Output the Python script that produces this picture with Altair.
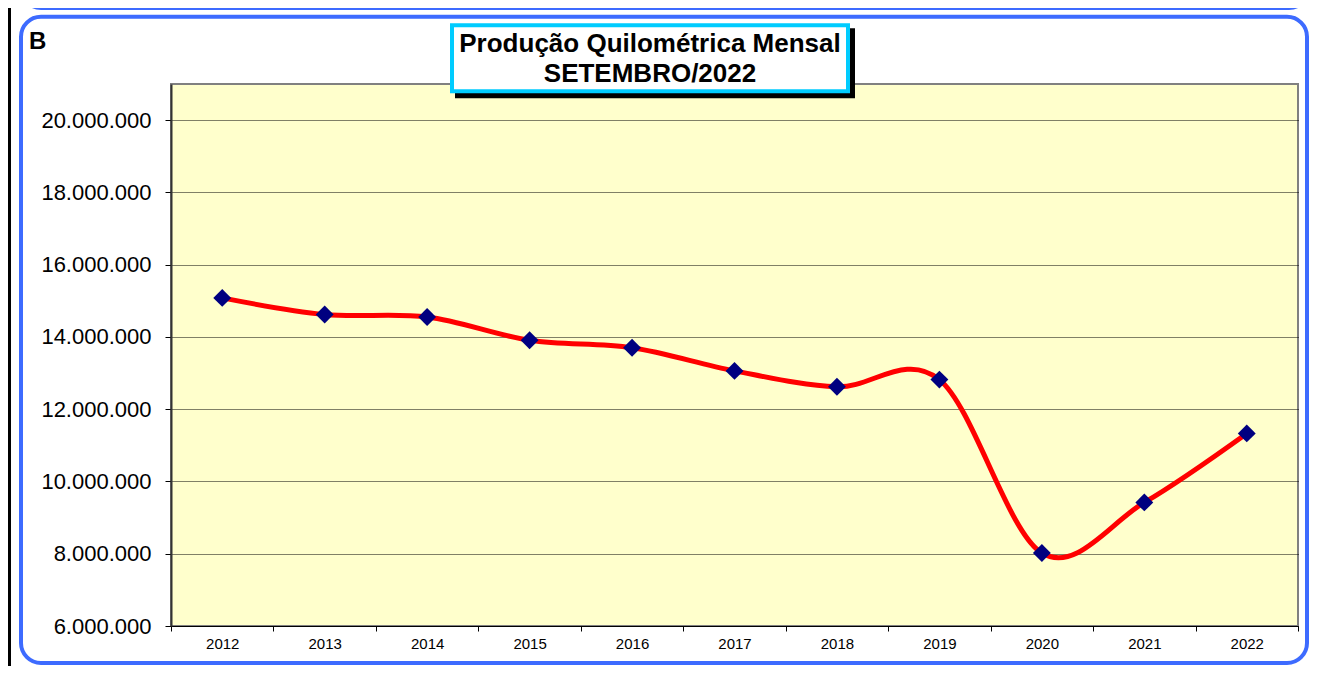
import altair as alt
import pandas as pd

years = ["2012", "2013", "2014", "2015", "2016", "2017", "2018", "2019", "2020", "2021", "2022"]
km = [15080000, 14620000, 14550000, 13910000, 13700000, 13060000, 12620000, 12820000, 8020000, 9420000, 11330000]
y_ticks = [6000000, 8000000, 10000000, 12000000, 14000000, 16000000, 18000000, 20000000]
title_lines = ["Produção Quilométrica Mensal", "SETEMBRO/2022"]
panel_label = "B"

df = pd.DataFrame({"year": years, "km": km})
one = pd.DataFrame({"_": [0]})

FONT = "Liberation Sans"
BLUE = "#3D6BFF"

x_enc = alt.X(
    "year:N", sort=None, bandPosition=0.5,
    scale=alt.Scale(type="band", paddingInner=0, paddingOuter=0),
    axis=alt.Axis(title=None, tickBand="extent", labelAngle=0, grid=False,
                  domainColor="black", tickColor="black", tickSize=5,
                  labelPadding=5, labelFontSize=15, labelColor="black", labelFont=FONT),
)
y_enc = alt.Y(
    "km:Q",
    scale=alt.Scale(domain=[6000000, 21000000], nice=False, zero=False),
    axis=alt.Axis(title=None, values=y_ticks,
                  labelExpr="replace(replace(format(datum.value, ',d'), ',', '.'), ',', '.')",
                  labelFontSize=22, labelFont=FONT, labelColor="black",
                  tickSize=6, labelPadding=14, tickColor="black",
                  gridColor="black", gridDash=[1, 1], gridWidth=1,
                  domainColor="#333333", domainWidth=2),
)

line = alt.Chart(df).mark_line(color="#FF0000", strokeWidth=5, interpolate="cardinal").encode(x=x_enc, y=y_enc)
points = alt.Chart(df).mark_point(shape="diamond", filled=True, color="#000080", size=320, opacity=1).encode(x=x_enc, y=y_enc)

def rect(x, x2, y, y2, **kw):
    return alt.Chart(one).mark_rect(**kw).encode(
        x=alt.value(x), x2=alt.value(x2), y=alt.value(y), y2=alt.value(y2))

black_bar = rect(-163, -160, -76, 582, fill="black")
top_box = rect(-148, 1136, -124, -77, fill=None, fillOpacity=0, stroke=BLUE, strokeWidth=6, cornerRadius=18)
main_box = rect(-150, 1136, -67.3, 579, fill=None, fillOpacity=0, stroke=BLUE, strokeWidth=4, cornerRadius=20)
shadow = rect(284, 684, -55.7, 14.3, fill="black")
title_box = rect(281, 677, -58.7, 7.3, fill="white", stroke="#00CCFF", strokeWidth=4)

def text(t, x, y, size, align="center"):
    return alt.Chart(one).mark_text(text=t, font=FONT, fontSize=size, fontWeight="bold",
                                     color="black", align=align, baseline="alphabetic").encode(
        x=alt.value(x), y=alt.value(y))

t1 = text(title_lines[0], 479, -31.7, 26)
t2 = text(title_lines[1], 479, -2.3, 26)
bl = text(panel_label, -142, -34.7, 24, align="left")

chart = alt.layer(
    black_bar, top_box, main_box, line, points, shadow, title_box, t1, t2, bl
).properties(
    width=1127, height=542,
    padding={"left": 163, "top": 76, "right": 11, "bottom": 40},
    autosize=alt.AutoSizeParams(type="none"),
    background="white",
).configure_view(fill="#FFFFCC", stroke="#808080", strokeWidth=2)

chart.save("out.html", embed_options={"renderer": "svg", "actions": False})
